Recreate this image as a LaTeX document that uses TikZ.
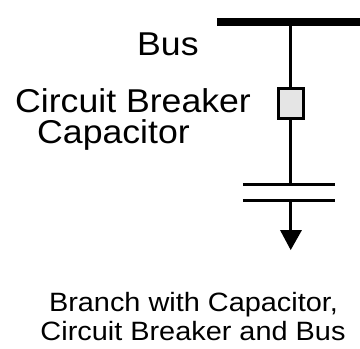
\documentclass[tikz,border=0pt]{standalone}
\usepackage{fontspec}
\setmainfont{Liberation Sans}
\begin{document}
\begin{tikzpicture}[x=1pt,y=-1pt,
  lbl/.style={inner sep=0pt, anchor=base west, font=\fontsize{33}{39}\selectfont, xscale=1.08},
  caption/.style={inner sep=0pt, align=center, font=\fontsize{26.5}{29}\selectfont, xscale=1.09},
  wire/.style={line width=3pt},
  busbar/.style={line width=8pt},
  breaker/.style={draw, line width=3pt, fill=black!10, minimum width=25pt, minimum height=30pt, inner sep=0pt},
  plate/.style={line width=3pt}]
\useasboundingbox (0,0) rectangle (360,349);

% bus bar
\coordinate (busL) at (217,21.5);
\coordinate (busR) at (360,21.5);
\coordinate (tap) at (290.7,21.5);
\draw[busbar] (busL) -- (busR);

% breaker
\node[breaker] (cb) at (290.7,103.5) {};
\draw[wire] (tap) -- (cb.north);

% capacitor plates
\coordinate (p1L) at (243,184);
\coordinate (p1R) at (335,184);
\coordinate (p1) at (290.7,184);
\coordinate (p2L) at (243,200.5);
\coordinate (p2R) at (335,200.5);
\coordinate (p2) at (290.7,200.5);
\draw[plate] (p1L) -- (p1R);
\draw[plate] (p2L) -- (p2R);
\draw[wire] (cb.south) -- (p1);

% arrow to ground
\coordinate (arrL) at (280,230);
\coordinate (arrR) at (302,230);
\coordinate (arrM) at (290.7,231);
\coordinate (gnd) at (290.7,250);
\draw[wire] (p2) -- (arrM);
\fill (arrL) -- (arrR) -- (gnd) -- cycle;

% labels
\node[lbl] (tBus) at (137,55) {Bus};
\node[lbl] (tCB) at (15,112) {Circuit Breaker};
\node[lbl] (tCap) at (37,143) {Capacitor};

\node[caption, anchor=base] (cap1) at (193.5,311) {Branch with Capacitor,};
\node[caption, anchor=base] (cap2) at (193,340) {Circuit Breaker and Bus};
\end{tikzpicture}
\end{document}
